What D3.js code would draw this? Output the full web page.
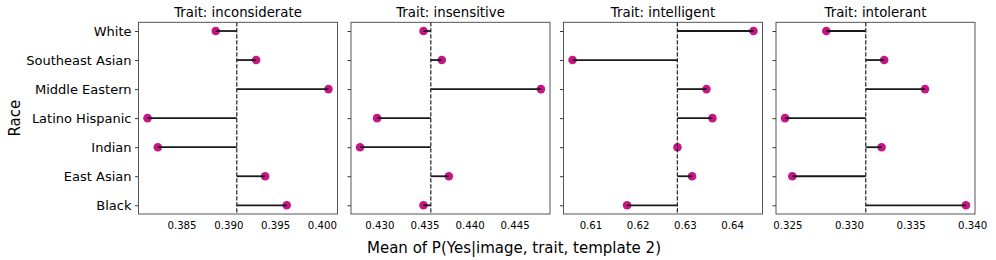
<!DOCTYPE html>
<html>
<head>
<meta charset="utf-8">
<script src="https://cdn.jsdelivr.net/npm/d3@7"></script>
<style>
  body { margin: 0; background: #fff; }
  svg { display: block; font-family: "DejaVu Sans", sans-serif; }
</style>
</head>
<body>
<svg id="chart" width="996" height="260"></svg>
<script>
/* Data Setup */
const races = ["Black", "East Asian", "Indian", "Latino Hispanic", "Middle Eastern", "Southeast Asian", "White"];
const traits = ["inconsiderate", "insensitive", "intelligent", "intolerant"];

/* Mean of P(Yes|image, trait, template 2), same order as races */
const inconsiderateValues = [0.39625, 0.39394, 0.38247, 0.38137, 0.40071, 0.39298, 0.38866];
const insensitiveValues   = [0.43489, 0.43770, 0.42785, 0.42974, 0.44792, 0.43692, 0.43489];
const intelligentValues   = [0.61776, 0.63153, 0.62844, 0.63585, 0.63458, 0.60620, 0.64454];
const intolerantValues    = [0.33950, 0.32540, 0.33265, 0.32481, 0.33618, 0.33286, 0.32816];

/* Tick labels per panel */
const inconsiderateTicks = [0.385, 0.390, 0.395, 0.400];
const insensitiveTicks   = [0.430, 0.435, 0.440, 0.445];
const intelligentTicks   = [0.61, 0.62, 0.63, 0.64];
const intolerantTicks    = [0.325, 0.330, 0.335, 0.340];

const panelValues = [inconsiderateValues, insensitiveValues, intelligentValues, intolerantValues];
const panelTicks = [inconsiderateTicks, insensitiveTicks, intelligentTicks, intolerantTicks];
const panelFormats = [".3f", ".3f", ".2f", ".3f"];

/* Layout */
const panelLeft = 138.5;
const panelStep = 212.5;
const panelWidth = 199;
const plotTop = 22.3;
const plotBottom = 214;
const dotColor = "#C71585";

const svg = d3.select("#chart");

/* Shared Y scale, White on top */
const yScale = d3.scalePoint()
    .domain(races.slice().reverse())
    .range([plotTop, plotBottom])
    .padding(0.3);

function drawPanel(i) {
    const values = panelValues[i];
    const data = races.map((r, k) => ({ race: r, value: values[k] }));
    const mean = d3.mean(values);

    /* X domain like matplotlib autoscale: data extent plus 5% margin */
    const [lo, hi] = d3.extent(values.concat([mean]));
    const pad = (hi - lo) * 0.05;
    const x0 = panelLeft + i * panelStep;

    const xScale = d3.scaleLinear()
        .domain([lo - pad, hi + pad])
        .range([x0, x0 + panelWidth]);

    const g = svg.append("g");

    /* Title */
    g.append("text")
        .attr("x", x0 + panelWidth / 2)
        .attr("y", 17)
        .attr("text-anchor", "middle")
        .style("font-size", "13.3px")
        .text("Trait: " + traits[i]);

    /* X axis, no tick marks */
    const xAxis = d3.axisBottom(xScale)
        .tickValues(panelTicks[i])
        .tickFormat(d3.format(panelFormats[i]))
        .tickSize(0)
        .tickPadding(7.5);
    const xg = g.append("g")
        .attr("transform", `translate(0,${plotBottom})`)
        .call(xAxis);
    xg.select(".domain").remove();
    xg.selectAll("text")
        .style("font-size", "10.2px")
        .style("font-family", "DejaVu Sans, sans-serif")
        .attr("fill", "#000");

    /* Y axis ticks (labels only on first panel) */
    const yAxis = d3.axisLeft(yScale)
        .tickSize(3.5)
        .tickPadding(3.5)
        .tickFormat(i === 0 ? (d => d) : "");
    const yg = g.append("g")
        .attr("transform", `translate(${x0},0)`)
        .call(yAxis);
    yg.select(".domain").remove();
    yg.selectAll("line").attr("stroke", "#222").attr("stroke-width", 0.9);
    yg.selectAll("text")
        .style("font-size", "13px")
        .style("font-family", "DejaVu Sans, sans-serif")
        .attr("fill", "#000");

    /* Dots */
    g.selectAll(".dot")
        .data(data)
        .join("circle")
          .attr("class", "dot")
          .attr("cx", d => xScale(d.value))
          .attr("cy", d => yScale(d.race))
          .attr("r", 4.3)
          .attr("fill", dotColor);

    /* Lines from mean to value (drawn above the dots) */
    g.selectAll(".stem")
        .data(data)
        .join("line")
          .attr("class", "stem")
          .attr("x1", xScale(mean))
          .attr("x2", d => xScale(d.value))
          .attr("y1", d => yScale(d.race))
          .attr("y2", d => yScale(d.race))
          .attr("stroke", "#1a1a1a")
          .attr("stroke-width", 1.8);

    /* Mean dashed line */
    g.append("line")
        .attr("x1", xScale(mean))
        .attr("x2", xScale(mean))
        .attr("y1", plotTop)
        .attr("y2", plotBottom)
        .attr("stroke", "#222")
        .attr("stroke-width", 1.2)
        .attr("stroke-dasharray", "4.2,1.8");

    /* Frame */
    g.append("rect")
        .attr("x", x0)
        .attr("y", plotTop)
        .attr("width", panelWidth)
        .attr("height", plotBottom - plotTop)
        .attr("fill", "none")
        .attr("stroke", "#444")
        .attr("stroke-width", 0.9);
}

traits.forEach((t, i) => drawPanel(i));

/* Axis titles */
svg.append("text")
    .attr("transform", `translate(20,${(plotTop + plotBottom) / 2}) rotate(-90)`)
    .attr("text-anchor", "middle")
    .style("font-size", "15px")
    .text("Race");

svg.append("text")
    .attr("x", 514)
    .attr("y", 253)
    .attr("text-anchor", "middle")
    .style("font-size", "15px")
    .text("Mean of P(Yes|image, trait, template 2)");
</script>
</body>
</html>
